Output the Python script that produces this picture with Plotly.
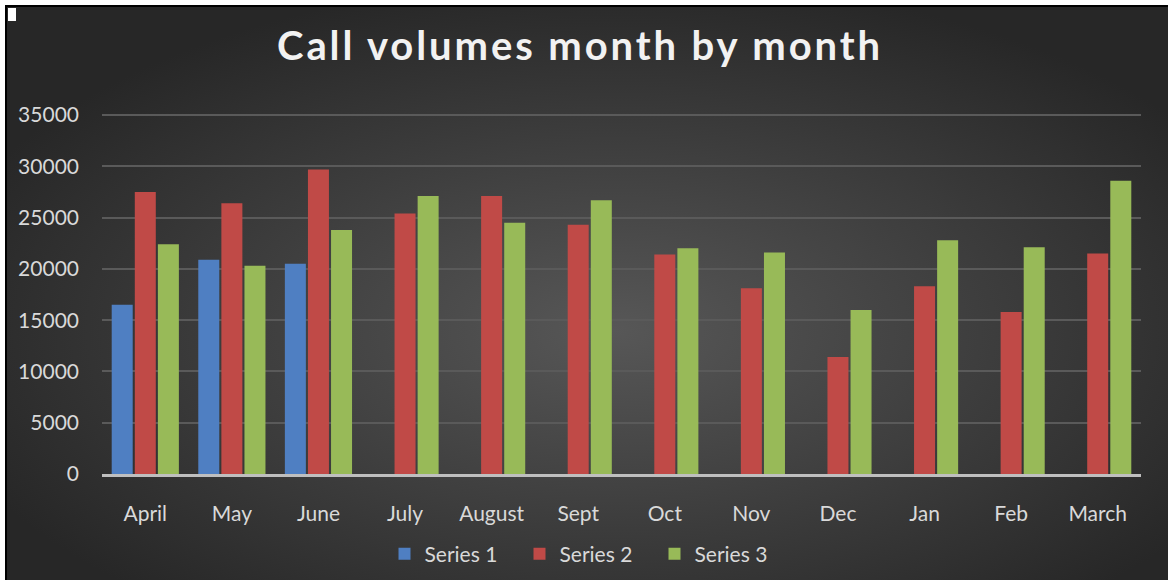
import base64
import plotly.graph_objects as go

months = ["April", "May", "June", "July", "August", "Sept", "Oct", "Nov", "Dec", "Jan", "Feb", "March"]
series1 = [16500, 20900, 20500, None, None, None, None, None, None, None, None, None]
series2 = [27500, 26400, 29700, 25400, 27100, 24300, 21400, 18100, 11400, 18300, 15800, 21500]
series3 = [22400, 20300, 23800, 27100, 24500, 26700, 22000, 21600, 16000, 22800, 22100, 28600]
y_ticks = [0, 5000, 10000, 15000, 20000, 25000, 30000, 35000]

W, H = 1168, 580
L, R, T, B = 102, 27, 114, 106
pw, ph = W - L - R, H - T - B

svg = (
    "<svg xmlns='http://www.w3.org/2000/svg' width='1168' height='580' viewBox='0 0 1168 580' preserveAspectRatio='none'>"
    "<defs><radialGradient id='g' cx='0.52' cy='0.55' r='0.6'>"
    "<stop offset='0' stop-color='#575757'/><stop offset='1' stop-color='#272727'/>"
    "</radialGradient></defs>"
    "<rect width='1168' height='580' fill='#ffffff'/>"
    "<rect x='6' y='6' width='1170' height='590' fill='url(#g)' stroke='#000000' stroke-width='2'/>"
    "<rect x='8' y='8' width='8' height='13' fill='#ffffff'/>"
    "</svg>"
)
src = "data:image/svg+xml;base64," + base64.b64encode(svg.encode()).decode()

font = "Lato, 'Open Sans', sans-serif"
fig = go.Figure()
fig.add_trace(go.Bar(name="Series 1", x=months, y=series1, marker=dict(color="#4f7fc2", line_width=0)))
fig.add_trace(go.Bar(name="Series 2", x=months, y=series2, marker=dict(color="#c04a47", line_width=0)))
fig.add_trace(go.Bar(name="Series 3", x=months, y=series3, marker=dict(color="#98ba58", line_width=0)))

fig.update_layout(
    width=W, height=H,
    margin=dict(l=L, r=R, t=T, b=B, autoexpand=False),
    paper_bgcolor="#ffffff",
    plot_bgcolor="rgba(0,0,0,0)",
    barmode="group", bargap=0.2, bargroupgap=0.09,
    font=dict(family=font, color="#d9d9d9", size=21),
    title=dict(text="<b>Call volumes month by month</b>", x=580 / W, xref="container",
               y=1 - 46 / H, yref="container", xanchor="center", yanchor="middle",
               font=dict(family=font, size=40, color="#f2f2f2")),
    legend=dict(orientation="h", x=(587 - L) / pw, xanchor="center", y=(T + ph - 554) / ph, yanchor="middle",
                entrywidth=90, entrywidthmode="pixels",
                font=dict(size=21, color="#d9d9d9"), bgcolor="rgba(0,0,0,0)"),
    images=[dict(source=src, xref="paper", yref="paper", x=-L / pw, y=(ph + T) / ph,
                 sizex=W / pw, sizey=H / ph, xanchor="left", yanchor="top",
                 sizing="stretch", layer="below")],
    showlegend=True,
)
fig.update_xaxes(showgrid=False, showline=True, linecolor="#bfbfbf", linewidth=3,
                 ticks="", ticklabelstandoff=19, tickfont=dict(size=21, color="#d9d9d9"))
fig.update_yaxes(range=[0, 35100], tickvals=y_ticks, tickformat="d", showgrid=True,
                 gridcolor="#5a5a5a", gridwidth=2, zeroline=False, showline=False,
                 ticklabelstandoff=22, tickfont=dict(size=21, color="#d9d9d9"))

post = """
document.body.style.margin = '0';
var t = document.querySelector('.gtitle');
if (t) { t.style.letterSpacing = '2.9px'; }
"""
fig.write_html("out.html", post_script=post, config={"displayModeBar": False})
